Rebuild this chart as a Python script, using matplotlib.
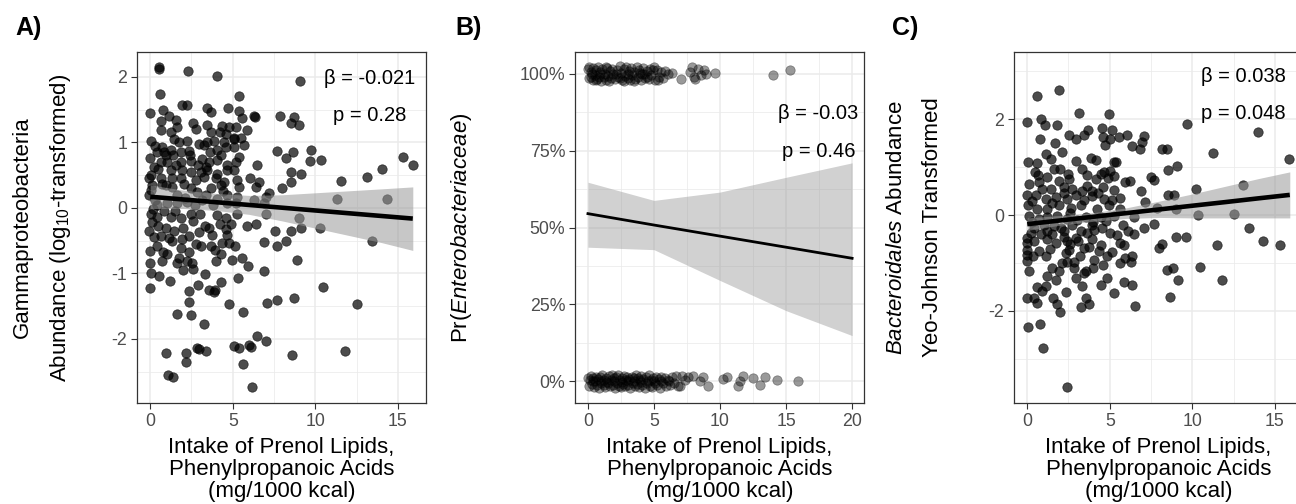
import numpy as np
import matplotlib
matplotlib.use("Agg")
import matplotlib.pyplot as plt

plt.rcParams['font.family'] = ['Liberation Sans', 'DejaVu Sans']
plt.rcParams['mathtext.fontset'] = 'custom'
plt.rcParams['mathtext.rm'] = 'Liberation Sans'
plt.rcParams['mathtext.it'] = 'Liberation Sans:italic'
plt.rcParams['axes.unicode_minus'] = False

# ---- data ----
# panel A: intake vs Gammaproteobacteria (log10)
A_pts = [
    (0.53, 2.15), (0.55, 2.12), (2.28, 2.09), (4.02, 2.02), (9.05, 1.93), (0.57, 1.74), (5.37, 1.71),
    (1.94, 1.57), (2.2, 1.57), (3.45, 1.53), (3.7, 1.47), (-0.04, 1.45), (0.77, 1.49), (1.13, 1.41),
    (4.7, 1.53), (5.37, 1.48), (6.28, 1.41), (6.32, 1.39), (5.57, 1.37), (7.86, 1.41), (8.7, 1.38),
    (8.5, 1.30), (9.0, 1.27), (0.63, 1.32), (1.54, 1.34), (1.6, 1.24), (0.63, 1.19), (1.23, 1.16),
    (2.8, 1.21), (3.45, 1.26), (3.66, 1.16), (4.36, 1.25), (4.77, 1.24), (5.17, 1.24), (4.22, 1.16),
    (4.57, 1.13), (5.07, 1.06), (5.47, 1.07), (5.88, 1.19), (0.06, 1.02), (1.74, 1.01), (2.24, 1.02),
    (2.95, 0.98), (3.45, 1.01), (3.86, 1.02), (4.46, 1.01), (5.1, 1.05), (0.73, 0.93), (0.83, 0.85),
    (0.93, 0.80), (1.23, 0.88), (1.39, 0.80), (1.84, 0.85), (2.34, 0.87), (2.4, 0.80), (3.25, 0.96),
    (3.6, 0.85), (4.06, 0.88), (4.57, 0.93), (5.07, 0.93), (5.68, 0.96), (-0.04, 0.76), (0.42, 0.85),
    (1.03, 0.70), (0.63, 0.70), (1.84, 0.70), (2.44, 0.71), (3.15, 0.75), (3.56, 0.70), (4.02, 0.73),
    (4.26, 0.80), (4.63, 0.65), (5.17, 0.70), (5.37, 0.78), (7.66, 0.87), (8.2, 0.76), (8.67, 0.85),
    (9.72, 0.89), (9.66, 0.72), (10.32, 0.73), (6.48, 0.65), (0.46, 0.60), (1.23, 0.58), (0.02, 0.50),
    (1.94, 0.58), (2.44, 0.55), (3.35, 0.63), (3.45, 0.58), (4.06, 0.52), (4.67, 0.58), (5.07, 0.58),
    (8.54, 0.54), (9.15, 0.52), (-0.06, 0.45), (0.63, 0.45), (0.73, 0.37), (1.33, 0.46), (1.84, 0.45),
    (2.04, 0.37), (2.75, 0.42), (3.25, 0.47), (3.96, 0.45), (4.46, 0.40), (5.27, 0.42), (5.37, 0.32),
    (6.02, 0.45), (6.59, 0.40), (8.5, 0.39), (8.0, 0.30), (11.58, 0.41), (13.15, 0.47), (14.06, 0.60),
    (15.33, 0.77), (15.94, 0.65), (0.12, 0.35), (-0.08, 0.19), (0.93, 0.35), (1.33, 0.32), (2.44, 0.30),
    (2.85, 0.24), (3.66, 0.30), (4.26, 0.35), (4.67, 0.19), (5.27, 0.17), (6.38, 0.32), (7.19, 0.22),
    (6.99, 0.17), (11.29, 0.13), (14.32, 0.14), (0.42, 0.04), (1.03, 0.07), (1.64, 0.07), (2.24, 0.09),
    (3.15, 0.12), (4.06, 0.14), (4.67, 0.07), (5.17, 0.07), (6.28, 0.12), (6.89, 0.07), (0.02, -0.09),
    (0.42, -0.14), (0.12, -0.21), (1.23, -0.14), (1.84, -0.16), (2.44, -0.09), (4.06, -0.11),
    (4.57, -0.16), (5.27, -0.09), (6.99, -0.09), (9.0, -0.15), (5.88, -0.28), (6.38, -0.24),
    (9.11, -0.30), (10.28, -0.30), (-0.08, -0.36), (0.63, -0.43), (1.13, -0.46), (1.43, -0.36),
    (1.33, -0.51), (1.94, -0.48), (2.34, -0.43), (2.95, -0.37), (3.77, -0.41), (3.56, -0.31),
    (4.57, -0.33), (4.67, -0.41), (7.54, -0.36), (8.55, -0.35), (6.89, -0.52), (7.66, -0.59),
    (8.2, -0.51), (13.45, -0.51), (-0.04, -0.66), (0.42, -0.59), (0.79, -0.67), (1.84, -0.61),
    (2.34, -0.67), (2.75, -0.55), (3.05, -0.59), (3.66, -0.59), (3.9, -0.65), (4.36, -0.54),
    (4.26, -0.70), (4.77, -0.54), (5.11, -0.59), (-0.04, -0.84), (0.73, -0.81), (1.64, -0.84),
    (1.74, -0.77), (2.24, -0.81), (2.55, -0.84), (2.6, -0.93), (4.0, -0.81), (4.97, -0.79),
    (5.58, -0.76), (5.92, -0.89), (8.91, -0.80), (0.06, -0.99), (0.53, -1.04), (1.17, -1.12),
    (3.29, -1.01), (6.89, -0.96), (5.33, -1.07), (4.26, -1.13), (-0.04, -1.22), (2.91, -1.18),
    (2.34, -1.27), (3.56, -1.25), (3.9, -1.25), (3.86, -1.28), (10.48, -1.21), (8.7, -1.38),
    (7.7, -1.40), (7.09, -1.45), (2.34, -1.44), (4.77, -1.47), (5.64, -1.59), (12.55, -1.47),
    (1.64, -1.62), (2.48, -1.63), (3.25, -1.77), (6.44, -1.96), (6.99, -2.03), (2.85, -2.14),
    (2.95, -2.15), (3.35, -2.18), (5.07, -2.11), (5.37, -2.14), (5.98, -2.10), (6.08, -2.12),
    (0.97, -2.21), (2.14, -2.21), (2.14, -2.36), (8.57, -2.24), (11.78, -2.19), (5.64, -2.39),
    (1.07, -2.55), (1.39, -2.59), (6.18, -2.73),
    (0.05, 0.28), (0.3, 0.12), (0.15, -0.02), (0.5, -0.27), (0.85, -0.05), (0.95, -0.3), (1.5, -0.05),
    (1.6, 0.2), (2.0, -0.3), (2.1, 0.15), (2.6, -0.2), (2.7, 0.05), (3.0, -0.1), (3.3, -0.28),
    (3.4, 0.2), (3.8, 0.05), (4.2, -0.25), (4.4, 0.25), (4.9, -0.25), (3.1, 0.55), (2.9, 0.65),
    (1.55, 0.66), (0.25, 0.62), (0.2, -0.45), (1.0, -0.7), (2.0, -0.95), (0.3, 0.95), (1.45, 1.05),
    (2.6, 1.3),
]
A_fit_x = [0, 2, 4, 6, 8, 10, 12, 14, 15.9]
A_fit_y = [0.17, 0.128, 0.086, 0.044, 0.002, -0.04, -0.082, -0.124, -0.164]
A_hi = [0.35, 0.27, 0.22, 0.19, 0.20, 0.23, 0.26, 0.29, 0.32]
A_lo = [-0.01, -0.01, -0.04, -0.10, -0.20, -0.31, -0.42, -0.53, -0.65]

# panel B: presence of Enterobacteriaceae (jittered 0/1)
B_top = [
    (0.02, 1.015), (0.05, 0.985), (0.1, 1.02), (0.2, 0.99), (0.25, 1.005), (0.35, 0.978), (0.4, 1.018),
    (0.5, 0.995), (0.6, 1.01), (0.7, 0.982), (0.75, 1.022), (0.85, 0.99), (0.95, 1.006), (1.0, 0.976),
    (1.1, 1.014), (1.2, 0.988), (1.3, 1.0), (1.4, 0.98), (1.45, 1.019), (1.55, 0.993), (1.65, 1.008),
    (1.75, 0.984), (1.85, 1.016), (1.9, 0.997), (2.05, 0.981), (2.2, 1.012), (2.3, 0.99), (2.4, 1.024),
    (2.5, 1.003), (2.6, 0.979), (2.7, 1.015), (2.8, 0.992), (2.9, 1.02), (3.0, 0.985), (3.1, 1.009),
    (3.2, 0.98), (3.25, 1.017), (3.35, 0.996), (3.45, 1.006), (3.6, 0.983), (3.7, 1.021), (3.8, 0.99),
    (3.9, 1.012), (4.0, 0.978), (4.1, 1.0), (4.2, 1.018), (4.3, 0.987), (4.45, 1.008), (4.6, 0.982),
    (4.7, 1.016), (4.8, 0.995), (4.95, 1.01), (5.1, 0.98), (5.25, 1.012), (5.4, 0.99), (5.5, 1.004),
    (5.7, 0.985), (5.85, 1.008), (6.05, 1.0), (6.35, 1.002), (7.05, 0.981), (7.7, 1.005), (7.85, 1.02),
    (8.0, 0.99), (8.1, 0.983), (8.3, 1.015), (8.55, 0.995), (8.75, 1.01), (8.95, 1.0), (9.6, 1.003),
    (14.04, 0.994), (15.3, 1.013),
    (0.3, 1.0), (0.9, 1.0), (1.6, 0.975), (2.1, 1.0), (2.45, 0.985), (3.05, 1.0), (3.5, 0.975),
    (3.95, 1.003), (4.5, 0.99), (5.0, 1.022), (5.3, 0.978), (0.6, 0.98), (1.35, 1.02), (2.75, 0.977),
    (4.25, 1.0),
]
B_bot = [
    (0.0, 0.012), (0.05, -0.015), (0.12, 0.004), (0.2, 0.018), (0.28, -0.008), (0.35, 0.01), (0.45, -0.018),
    (0.52, 0.002), (0.6, 0.016), (0.7, -0.01), (0.78, 0.008), (0.85, -0.02), (0.95, 0.014), (1.02, -0.004),
    (1.1, 0.02), (1.18, -0.012), (1.25, 0.006), (1.32, -0.018), (1.4, 0.012), (1.5, -0.006), (1.58, 0.018),
    (1.65, -0.014), (1.72, 0.004), (1.8, 0.02), (1.88, -0.01), (1.95, 0.01), (2.05, -0.02), (2.12, 0.015),
    (2.2, -0.004), (2.28, 0.022), (2.35, -0.014), (2.42, 0.006), (2.5, -0.018), (2.58, 0.012), (2.66, -0.008),
    (2.75, 0.018), (2.82, -0.016), (2.9, 0.004), (2.98, 0.014), (3.05, -0.012), (3.12, 0.008), (3.2, -0.02),
    (3.3, 0.016), (3.38, -0.004), (3.45, 0.01), (3.55, -0.016), (3.62, 0.02), (3.7, -0.008), (3.8, 0.012),
    (3.88, -0.018), (3.95, 0.004), (4.05, 0.018), (4.12, -0.012), (4.2, 0.008), (4.3, -0.02), (4.4, 0.014),
    (4.5, -0.006), (4.6, 0.02), (4.68, -0.014), (4.78, 0.006), (4.88, -0.018), (4.95, 0.012), (5.05, -0.004),
    (5.15, 0.016), (5.25, -0.012), (5.35, 0.008), (5.45, -0.02), (5.55, 0.014), (5.65, -0.006), (5.8, 0.01),
    (5.9, -0.016), (6.05, 0.004), (6.2, -0.01), (6.35, 0.014), (6.5, -0.006), (6.65, 0.018), (6.8, -0.014),
    (6.97, -0.014), (7.1, 0.018), (7.35, 0.005), (7.6, 0.013), (7.98, 0.018), (8.48, 0.002), (8.74, 0.013),
    (9.12, -0.014), (10.25, 0.008), (10.5, 0.013), (11.39, -0.014), (11.52, 0.002), (11.77, 0.018),
    (12.53, 0.01), (13.03, -0.012), (13.41, 0.013), (14.29, 0.005), (15.88, 0.002),
    (0.4, 0.0), (1.0, 0.003), (1.45, -0.002), (2.0, 0.001), (2.55, -0.003), (3.0, 0.002), (3.5, 0.0),
    (4.0, -0.002), (4.55, 0.001), (5.0, 0.0), (5.5, 0.003), (6.1, 0.0),
]
B_fit_x = [0, 5, 10, 15, 20]
B_fit_y = [0.545, 0.508, 0.472, 0.436, 0.40]
B_hi = [0.647, 0.588, 0.615, 0.663, 0.710]
B_lo = [0.436, 0.428, 0.328, 0.23, 0.149]

# panel C: intake vs Bacteroidales (Yeo-Johnson)
C_pts = [
    (1.93, 2.61), (0.62, 2.49), (3.13, 2.13), (4.94, 2.10), (-0.02, 1.94), (0.86, 2.01), (1.06, 1.87),
    (1.79, 1.88), (9.7, 1.90), (13.98, 1.74), (2.53, 1.66), (2.93, 1.58), (3.43, 1.66), (3.67, 1.78),
    (4.54, 1.81), (5.14, 1.78), (4.6, 1.63), (5.04, 1.58), (5.54, 1.63), (6.04, 1.66), (7.05, 1.65),
    (6.95, 1.52), (6.85, 1.38), (4.74, 1.47), (6.35, 1.44), (0.78, 1.58), (1.67, 1.51), (2.13, 1.31),
    (1.12, 1.28), (1.42, 1.17), (8.15, 1.37), (8.49, 1.38), (11.27, 1.30), (15.88, 1.17), (0.06, 1.10),
    (0.58, 1.08), (2.93, 1.12), (3.84, 1.19), (4.14, 1.14), (5.24, 1.10), (5.4, 1.10), (1.63, 0.97),
    (2.47, 0.86), (3.63, 0.83), (4.64, 0.90), (5.04, 0.91), (8.55, 0.93), (9.06, 1.03), (0.66, 0.83),
    (1.22, 0.79), (1.93, 0.72), (2.53, 0.76), (4.14, 0.76), (4.44, 0.86), (4.88, 0.77), (5.24, 0.81),
    (5.94, 0.69), (6.2, 0.72), (7.51, 0.79), (7.65, 0.74), (0.12, 0.65), (0.72, 0.69), (1.43, 0.55),
    (2.23, 0.58), (2.73, 0.55), (3.33, 0.51), (3.94, 0.51), (4.6, 0.58), (5.24, 0.53), (6.91, 0.51),
    (10.22, 0.55), (13.07, 0.62), (-0.02, 0.41), (0.52, 0.42), (1.12, 0.34), (1.73, 0.38), (2.43, 0.34),
    (2.93, 0.41), (3.43, 0.31), (3.94, 0.40), (4.64, 0.34), (5.14, 0.31), (7.15, 0.27), (8.55, 0.42),
    (8.86, 0.41), (0.02, 0.20), (0.62, 0.13), (1.22, 0.13), (1.93, 0.20), (2.63, 0.15), (3.23, 0.20),
    (4.24, 0.13), (4.94, 0.20), (5.64, 0.13), (7.85, 0.15), (9.02, 0.12), (12.51, 0.03), (10.36, 0.01),
    (0.12, -0.01), (0.72, -0.08), (1.22, -0.04), (1.83, -0.01), (2.43, -0.08), (3.53, -0.04),
    (4.44, -0.04), (5.24, -0.01), (6.45, -0.04), (7.65, -0.18), (13.43, -0.27), (14.28, -0.55),
    (15.28, -0.63), (11.51, -0.63), (9.0, -0.46), (9.62, -0.46), (7.95, -0.69), (8.19, -0.60),
    (6.45, -0.40), (7.05, -0.27), (-0.02, -0.48), (-0.02, -0.58), (-0.02, -0.72), (-0.02, -0.84),
    (-0.02, -0.95), (0.42, -0.55), (0.72, -0.76), (1.12, -0.86), (1.22, -0.51), (1.73, -0.58),
    (2.23, -0.34), (2.43, -0.55), (2.93, -0.48), (2.33, -0.79), (2.53, -0.72), (2.43, -0.97),
    (2.83, -0.97), (3.43, -0.69), (3.73, -0.67), (4.34, -0.74), (4.44, -0.62), (5.14, -0.77),
    (4.04, -0.93), (3.96, -1.10), (3.53, -1.17), (3.43, -1.21), (4.84, -0.86), (5.64, -0.58),
    (5.94, -0.90), (6.35, -0.86), (6.29, -0.97), (5.6, -1.0), (0.12, -1.17), (1.53, -1.10),
    (1.93, -1.17), (1.22, -1.28), (1.12, -1.49), (2.93, -1.31), (2.83, -1.10), (3.33, -1.49),
    (4.44, -1.45), (4.84, -1.31), (5.88, -1.40), (6.35, -1.45), (5.28, -1.62), (8.49, -1.14),
    (8.82, -1.10), (9.12, -1.35), (10.46, -1.09), (11.77, -1.36), (8.65, -1.71), (0.58, -1.51),
    (0.92, -1.59), (0.42, -1.73), (0.58, -1.83), (-0.02, -1.72), (1.59, -1.73), (1.83, -1.85),
    (1.97, -2.02), (2.33, -1.61), (3.53, -1.73), (3.73, -1.85), (3.27, -1.92), (6.51, -1.90),
    (0.06, -2.33), (0.76, -2.28), (0.98, -2.78), (2.39, -3.58),
    (0.42, -0.27), (1.22, -0.34), (2.03, -0.27), (2.23, -0.45), (3.23, -0.34), (3.63, -0.38),
    (4.04, -0.31), (4.54, -0.27), (5.04, -0.38), (5.44, -0.41), (5.84, -0.62), (0.3, -0.15),
    (1.0, -0.2), (1.6, -0.22), (2.7, -0.2), (3.0, -0.1), (4.0, -0.15), (4.8, -0.12), (5.8, -0.2),
    (6.1, -0.33), (0.2, -0.38), (0.85, -0.4), (1.5, -0.4), (2.6, -0.6), (3.1, -0.55), (3.9, -0.5),
    (0.3, 0.3), (1.5, 0.25), (2.2, 0.45), (3.6, 0.6),
    (0.35, -0.85), (1.4, -0.7), (2.1, -1.0), (3.2, -0.85), (4.6, -1.05), (0.9, 0.55), (2.0, 0.95),
    (3.3, 0.95), (4.3, 0.45), (5.6, 0.35), (1.75, -1.35), (2.6, 0.05), (3.9, -0.2), (0.5, 0.9),
]
C_fit_x = [0, 2, 4, 6, 8, 10, 12, 14, 15.9]
C_fit_y = [-0.19, -0.113, -0.036, 0.04, 0.117, 0.194, 0.27, 0.348, 0.42]
C_hi = [-0.06, -0.01, 0.05, 0.15, 0.29, 0.44, 0.60, 0.76, 0.90]
C_lo = [-0.32, -0.21, -0.13, -0.07, -0.05, -0.06, -0.06, -0.06, -0.06]

x_label = "Intake of Prenol Lipids,\nPhenylpropanoic Acids\n(mg/1000 kcal)"

W, H = 1296, 504
fig = plt.figure(figsize=(W / 100, H / 100), dpi=100)


def px(x, y):
    return x / W, 1 - y / H


def make_ax(left, xlim, ylim, xmaj, xmin, ymaj, ymin):
    ax = fig.add_axes([left / W, 1 - 403 / H, 289 / W, 351 / H])
    ax.set_xlim(xlim)
    ax.set_ylim(ylim)
    ax.set_xticks(xmaj)
    ax.set_xticks(xmin, minor=True)
    ax.set_yticks(ymaj)
    ax.set_yticks(ymin, minor=True)
    ax.grid(True, which='major', color='#EBEBEB', lw=1.1)
    ax.grid(True, which='minor', color='#EBEBEB', lw=0.55)
    ax.set_axisbelow(True)
    for s in ax.spines.values():
        s.set_color('#333333')
        s.set_linewidth(0.9)
    ax.tick_params(which='major', length=4, width=0.8, color='#333333',
                   labelsize=12.8, labelcolor='#4D4D4D', pad=3)
    ax.tick_params(which='minor', length=0)
    return ax


def scatter_fit(ax, pts, fx, fy, lo, hi, alpha, lw):
    xs, ys = np.array(pts).T
    ax.scatter(xs, ys, s=46, c='black', alpha=alpha, edgecolors='black',
               linewidths=0.5, zorder=2)
    ax.fill_between(fx, lo, hi, color='#999999', alpha=0.55, lw=0, zorder=3)
    ax.plot(fx, fy, color='black', lw=lw, zorder=4, solid_capstyle='butt')


# A
axA = make_ax(137, (-0.8, 16.7), (-2.98, 2.38), [0, 5, 10, 15], [2.5, 7.5, 12.5],
              [-2, -1, 0, 1, 2], [-2.5, -1.5, -0.5, 0.5, 1.5])
scatter_fit(axA, A_pts, A_fit_x, A_fit_y, A_lo, A_hi, 0.7, 3.3)
axA.text(13.28, 1.97, "β = -0.021", ha='center', va='center', fontsize=14.5)
axA.text(13.28, 1.41, "p = 0.28", ha='center', va='center', fontsize=14.5)

# B
axB = make_ax(575, (-0.98, 20.9), (-0.07, 1.07), [0, 5, 10, 15, 20],
              [2.5, 7.5, 12.5, 17.5], [0, 0.25, 0.5, 0.75, 1.0],
              [0.125, 0.375, 0.625, 0.875])
axB.set_yticklabels(["0%", "25%", "50%", "75%", "100%"])
xb, yb = np.array(B_top + B_bot).T
axB.scatter(xb, yb, s=46, c='black', alpha=0.4, edgecolors='black',
            linewidths=0.5, zorder=2)
axB.fill_between(B_fit_x, B_lo, B_hi, color='#999999', alpha=0.45, lw=0, zorder=3)
axB.plot(B_fit_x, B_fit_y, color='black', lw=2.0, zorder=4)
axB.text(17.45, 0.869, "β = -0.03", ha='center', va='center', fontsize=14.5)
axB.text(17.45, 0.748, "p = 0.46", ha='center', va='center', fontsize=14.5)

# C
axC = make_ax(1014, (-0.8, 16.7), (-3.92, 3.4), [0, 5, 10, 15], [2.5, 7.5, 12.5],
              [-2, 0, 2], [-3, -1, 1, 3])
scatter_fit(axC, C_pts, C_fit_x, C_fit_y, C_lo, C_hi, 0.7, 3.3)
axC.text(13.07, 2.885, "β = 0.038", ha='center', va='center', fontsize=14.5)
axC.text(13.07, 2.11, "p = 0.048", ha='center', va='center', fontsize=14.5)

# axis titles
for cx in (281.5, 719.5, 1158.5):
    fig.text(*px(cx, 437), x_label, ha='center', va='top', fontsize=16,
             linespacing=1.05, multialignment='center')

fig.text(*px(22, 227.5), "Gammaproteobacteria", rotation=90, ha='center', va='center', fontsize=16)
fig.text(*px(61, 227.5), "Abundance (log$_{10}$-transformed)", rotation=90,
         ha='center', va='center', fontsize=16)
fig.text(*px(462, 227.5), "Pr($\\mathit{Enterobacteriaceae}$)", rotation=90,
         ha='center', va='center', fontsize=16)
fig.text(*px(897, 227.5), "$\\mathit{Bacteroidales}$ Abundance", rotation=90,
         ha='center', va='center', fontsize=16)
fig.text(*px(933, 227.5), "Yeo-Johnson Transformed", rotation=90,
         ha='center', va='center', fontsize=16)

# panel tags
for lx, tag in ((15, "A)"), (455, "B)"), (892, "C)")):
    fig.text(*px(lx, 28), tag, ha='left', va='center', fontsize=18, fontweight='bold')

fig.savefig("out.png", dpi=100)
